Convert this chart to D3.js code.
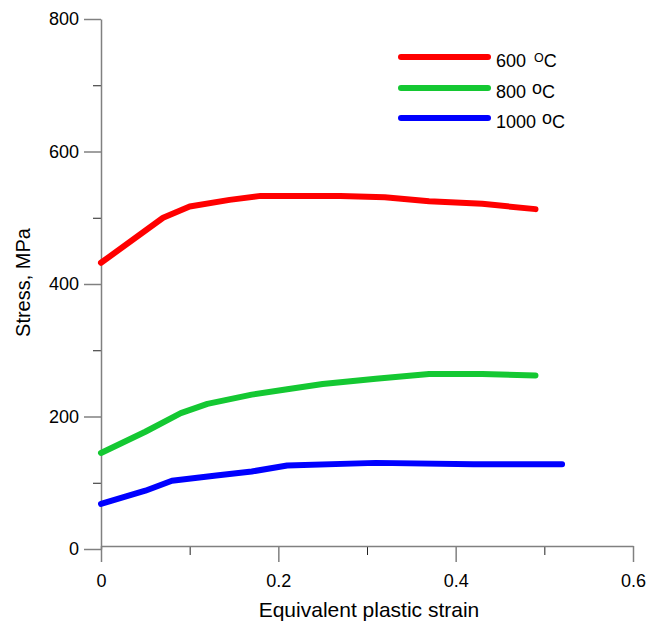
<!DOCTYPE html>
<html>
<head>
<meta charset="utf-8">
<script src="https://cdn.jsdelivr.net/npm/d3@7"></script>
<style>
  body { margin: 0; background: #fff; }
  text { font-family: Arial, 'Liberation Sans', sans-serif; }
</style>
</head>
<body>
<script>
// series
const strain600 = [0, 0.07, 0.1, 0.145, 0.18, 0.27, 0.32, 0.37, 0.43, 0.49];
const stress600 = [432, 500, 517, 527, 533, 533, 531, 525, 521, 513];
const strain800 = [0, 0.05, 0.09, 0.12, 0.17, 0.21, 0.25, 0.31, 0.37, 0.43, 0.49];
const stress800 = [145, 177, 205, 219, 233, 241, 249, 257, 264, 264, 262];
const strain1000 = [0, 0.05, 0.08, 0.13, 0.17, 0.21, 0.31, 0.42, 0.52];
const stress1000 = [68, 88, 103, 111, 117, 126, 130, 128, 128];

const seriesNames = ['600', '800', '1000'];
const seriesColors = ['#ff0000', '#14c832', '#0000ff'];
const degreeMarks = ['O', 'o', 'o'];

const xTicks = [0, 0.2, 0.4, 0.6];
const xMinor = [0.1, 0.3, 0.5];
const yTicks = [0, 200, 400, 600, 800];
const yMinor = [100, 300, 500, 700];

const width = 662, height = 623;
const pltLeft = 101, pltRight = 633, pltTop = 19, pltBottom = 549;
const axisColor = '#808080';
const tickFont = 18;

const svg = d3.select('body').append('svg')
    .attr('width', width)
    .attr('height', height);

const x = d3.scaleLinear().domain([0, 0.6]).range([pltLeft, pltRight]);
const y = d3.scaleLinear().domain([0, 800]).range([pltBottom, pltTop]);

// x axis sits a little above stress = 0 in the original
const xAxisY = pltBottom - 3;

// minor ticks first
svg.append('g')
    .attr('transform', `translate(0,${xAxisY})`)
    .call(d3.axisBottom(x).tickValues(xMinor).tickSize(9).tickFormat(''))
    .call(g => g.select('.domain').remove())
    .call(g => g.selectAll('line').attr('stroke', '#222'));

svg.append('g')
    .attr('transform', `translate(${pltLeft},0)`)
    .call(d3.axisLeft(y).tickValues(yMinor).tickSize(8).tickFormat(''))
    .call(g => g.select('.domain').remove())
    .call(g => g.selectAll('line').attr('stroke', '#222'));

// major x axis
svg.append('g')
    .attr('transform', `translate(0,${xAxisY})`)
    .call(d3.axisBottom(x).tickValues(xTicks).tickSize(16).tickSizeOuter(0).tickPadding(12)
        .tickFormat(d => d === 0 ? '0' : d3.format('.1f')(d)))
    .call(g => g.select('.domain').attr('stroke', axisColor).attr('stroke-width', 1.5))
    .call(g => g.selectAll('line').attr('stroke', axisColor).attr('stroke-width', 1.5))
    .call(g => g.selectAll('text').attr('font-size', tickFont).attr('fill', '#000')
        .attr('font-family', 'Arial, Liberation Sans, sans-serif'));

// major y axis
svg.append('g')
    .attr('transform', `translate(${pltLeft},0)`)
    .call(d3.axisLeft(y).tickValues(yTicks).tickSize(17).tickSizeOuter(0).tickPadding(5))
    .call(g => g.select('.domain').attr('stroke', axisColor).attr('stroke-width', 1.5))
    .call(g => g.selectAll('line').attr('stroke', axisColor).attr('stroke-width', 1.5))
    .call(g => g.selectAll('text').attr('font-size', tickFont).attr('fill', '#000')
        .attr('font-family', 'Arial, Liberation Sans, sans-serif'));

// axis titles
svg.append('text')
    .attr('x', 369)
    .attr('y', 617)
    .attr('text-anchor', 'middle')
    .attr('font-size', 21)
    .text('Equivalent plastic strain');

svg.append('text')
    .attr('transform', `translate(30,282.5) rotate(-90)`)
    .attr('text-anchor', 'middle')
    .attr('font-size', 20)
    .text('Stress, MPa');

// curves
const series = [
    d3.zip(strain600, stress600),
    d3.zip(strain800, stress800),
    d3.zip(strain1000, stress1000)
];

const line = d3.line().x(d => x(d[0])).y(d => y(d[1]));

svg.selectAll('path.curve')
    .data(series)
    .enter()
    .append('path')
    .attr('class', 'curve')
    .attr('fill', 'none')
    .attr('stroke', (d, i) => seriesColors[i])
    .attr('stroke-width', 6)
    .attr('stroke-linecap', 'round')
    .attr('stroke-linejoin', 'round')
    .attr('d', line);

// legend
const legend = svg.append('g');
const legY = [57, 88, 118];

legend.selectAll('line')
    .data(seriesNames)
    .enter()
    .append('line')
    .attr('x1', 401)
    .attr('x2', 488)
    .attr('y1', (d, i) => legY[i])
    .attr('y2', (d, i) => legY[i])
    .attr('stroke', (d, i) => seriesColors[i])
    .attr('stroke-width', 6)
    .attr('stroke-linecap', 'round');

legend.selectAll('text')
    .data(seriesNames)
    .enter()
    .append('text')
    .attr('x', 496)
    .attr('y', (d, i) => legY[i] + 9.5)
    .attr('font-size', 18)
    .each(function(d, i) {
        const t = d3.select(this);
        const raise = i === 0 ? 4.5 : 3.5;
        t.append('tspan').text(d + ' ');
        t.append('tspan')
            .attr('dx', i === 0 ? 3 : 1)
            .attr('dy', -raise)
            .attr('font-size', i === 0 ? 12.5 : 18)
            .text(degreeMarks[i]);
        t.append('tspan')
            .attr('dy', raise)
            .text('C');
    });
</script>
</body>
</html>
